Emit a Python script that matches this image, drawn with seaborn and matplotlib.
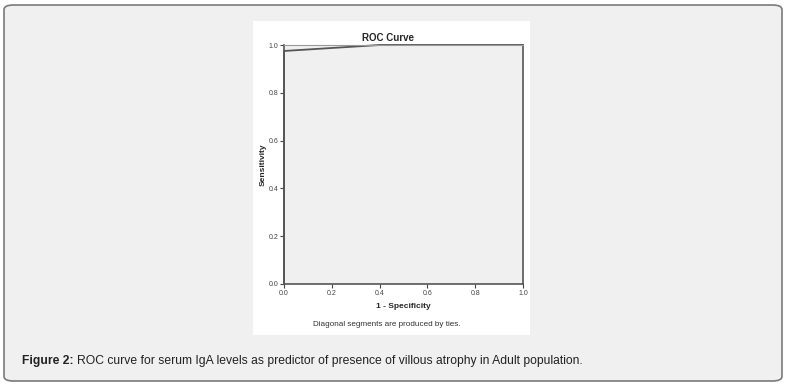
import numpy as np
import pandas as pd
import matplotlib.pyplot as plt
import seaborn as sns
from matplotlib.patches import FancyBboxPatch, Rectangle

# ---------- DATA ----------
fpr = [0.0, 0.0, 0.4, 1.0]          # 1 - Specificity
tpr = [0.0, 0.975, 1.0, 1.0]        # Sensitivity
tick_vals = [0.0, 0.2, 0.4, 0.6, 0.8, 1.0]

df = pd.DataFrame({"fpr": fpr, "tpr": tpr})

sns.set_style("white")
plt.rcParams["font.family"] = ["Liberation Sans", "DejaVu Sans"]

W, H = 789, 386
fig = plt.figure(figsize=(W / 100, H / 100), dpi=100)
fig.patch.set_facecolor("white")

# ---------- OUTER CARD ----------
card = FancyBboxPatch((4 / W, 5 / H), 778 / W, 376 / H,
                      boxstyle="round,pad=0,rounding_size=0.012",
                      transform=fig.transFigure, facecolor="#f0f0f0",
                      edgecolor="#7a7a7a", linewidth=1.2, zorder=-2)
fig.patches.append(card)

# white SPSS panel
panel = Rectangle((253 / W, 1 - 335 / H), 277 / W, 314 / H,
                  transform=fig.transFigure, facecolor="white",
                  edgecolor="none", zorder=-1)
fig.patches.append(panel)

# ---------- ROC AXES ----------
ax = fig.add_axes([284 / W, 1 - 284 / H, 239 / W, 239 / H])
ax.set_zorder(2)
ax.set_facecolor("#f0f0f0")
sns.lineplot(data=df, x="fpr", y="tpr", sort=False, estimator=None,
             color="#555555", linewidth=1.3, ax=ax)
for ln in ax.get_lines():
    ln.set_clip_on(False)
ax.set_xlim(0, 1)
ax.set_ylim(0, 1)
ax.set_xticks(tick_vals)
ax.set_yticks(tick_vals)
ax.set_xticklabels([f"{v:.1f}" for v in tick_vals])
ax.set_yticklabels([f"{v:.1f}" for v in tick_vals])
ax.tick_params(axis="both", labelsize=5, colors="#444444", length=3,
               width=0.8, direction="out", pad=1)
ax.tick_params(axis="x", bottom=True)
ax.tick_params(axis="y", left=True)

for side in ["left", "bottom", "right"]:
    ax.spines[side].set_color("#555555")
    ax.spines[side].set_linewidth(1.2)
ax.spines["top"].set_color("#999999")
ax.spines["top"].set_linewidth(0.8)

ax.set_title("ROC Curve", fontsize=7, fontweight="bold", pad=3, x=0.435)
ax.set_xlabel("1 - Specificity", fontsize=6, fontweight="bold", labelpad=5)
ax.set_ylabel("Sensitivity", fontsize=6, fontweight="bold", labelpad=1)

fig.text(387 / W, 1 - 325 / H, "Diagonal segments are produced by ties.",
         fontsize=5.9, color="#333333", ha="center", va="center")

# ---------- CAPTION ----------
t1 = fig.text(22 / W, 1 - 361 / H, "Figure 2:", fontsize=8.7,
              fontweight="bold", color="#222222", ha="left", va="center")
fig.canvas.draw()
bb = t1.get_window_extent()
fig.text(bb.x1 / W + 3 / W, 1 - 361 / H,
         "ROC curve for serum IgA levels as predictor of presence of villous atrophy in Adult population.",
         fontsize=8.7, color="#222222", ha="left", va="center")

fig.savefig("out.png", dpi=100)
